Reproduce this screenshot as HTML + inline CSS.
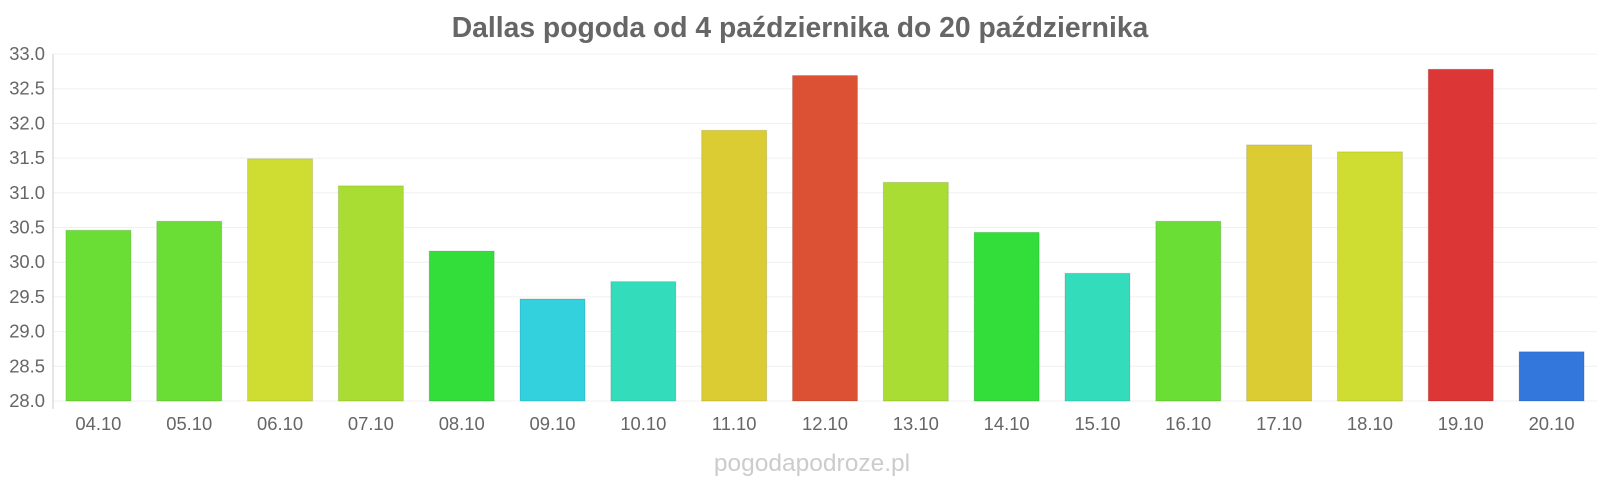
<!DOCTYPE html>
<html><head><meta charset="utf-8"><style>
body{margin:0;background:#fff;font-family:"Liberation Sans",sans-serif}
svg{display:block}
</style></head><body>
<svg id="chart" width="1600" height="480">
<text x="800" y="37" text-anchor="middle" font-size="28.3" font-weight="bold" fill="#666">Dallas pogoda od 4 października do 20 października</text>
<text x="812" y="471" text-anchor="middle" font-size="24.5" fill="#ccc">pogodapodroze.pl</text>
<g id="grid"></g><g id="bars"></g><g id="labels"></g>
</svg>
<script>
const categories=["04.10","05.10","06.10","07.10","08.10","09.10","10.10","11.10","12.10","13.10","14.10","15.10","16.10","17.10","18.10","19.10","20.10"];
const values=[30.46,30.59,31.49,31.10,30.16,29.47,29.72,31.90,32.69,31.15,30.43,29.84,30.59,31.69,31.59,32.78,28.71];
const yTicks=["28.0","28.5","29.0","29.5","30.0","30.5","31.0","31.5","32.0","32.5","33.0"];
const colors=["#6bde36","#6bde36","#cfdd33","#aadd33","#33dd3a","#33d0dd","#33ddbb","#dbcc33","#dc5033","#aadd33","#33dd3a","#33ddbb","#6bde36","#dbcc33","#cfdd33","#dd3636","#3377dd"];
const NS="http://www.w3.org/2000/svg";
const yMin=28,yMax=33,plotTop=54,plotBot=401,plotLeft=53,plotRight=1597;
const yScale=v=>plotBot-(v-yMin)/(yMax-yMin)*(plotBot-plotTop);
const step=(plotRight-plotLeft)/categories.length;
const xScale=i=>plotLeft+step*i+step/2;
function mk(t,a,p){const e=document.createElementNS(NS,t);for(const k in a)e.setAttribute(k,a[k]);document.getElementById(p).appendChild(e);return e;}
yTicks.forEach(t=>{
 const v=parseFloat(t);
 const g=mk("line",{x1:plotLeft,x2:plotRight,y1:yScale(v),y2:yScale(v),stroke:"#f0f0f0"},"grid");
 
 
 const l=mk("text",{x:45,y:yScale(v)+6,"text-anchor":"end","font-size":"18.4",fill:"#666"},"labels");
 l.textContent=t;
 
 
});
const ax=mk("line",{x1:plotLeft,x2:plotLeft,y1:plotTop,y2:plotBot+8,stroke:"#ccc"},"grid");


categories.forEach((c,i)=>{
 const bw=65;
 const r=mk("rect",{x:xScale(i)-bw/2,y:yScale(values[i]),width:bw,height:plotBot-yScale(values[i]),fill:colors[i],stroke:"rgba(0,0,0,0.12)"},"bars");
 
 
 const l=mk("text",{x:xScale(i),y:430,"text-anchor":"middle","font-size":"18.4",fill:"#666"},"labels");
 l.textContent=c;
 
 
});
</script>
</body></html>
